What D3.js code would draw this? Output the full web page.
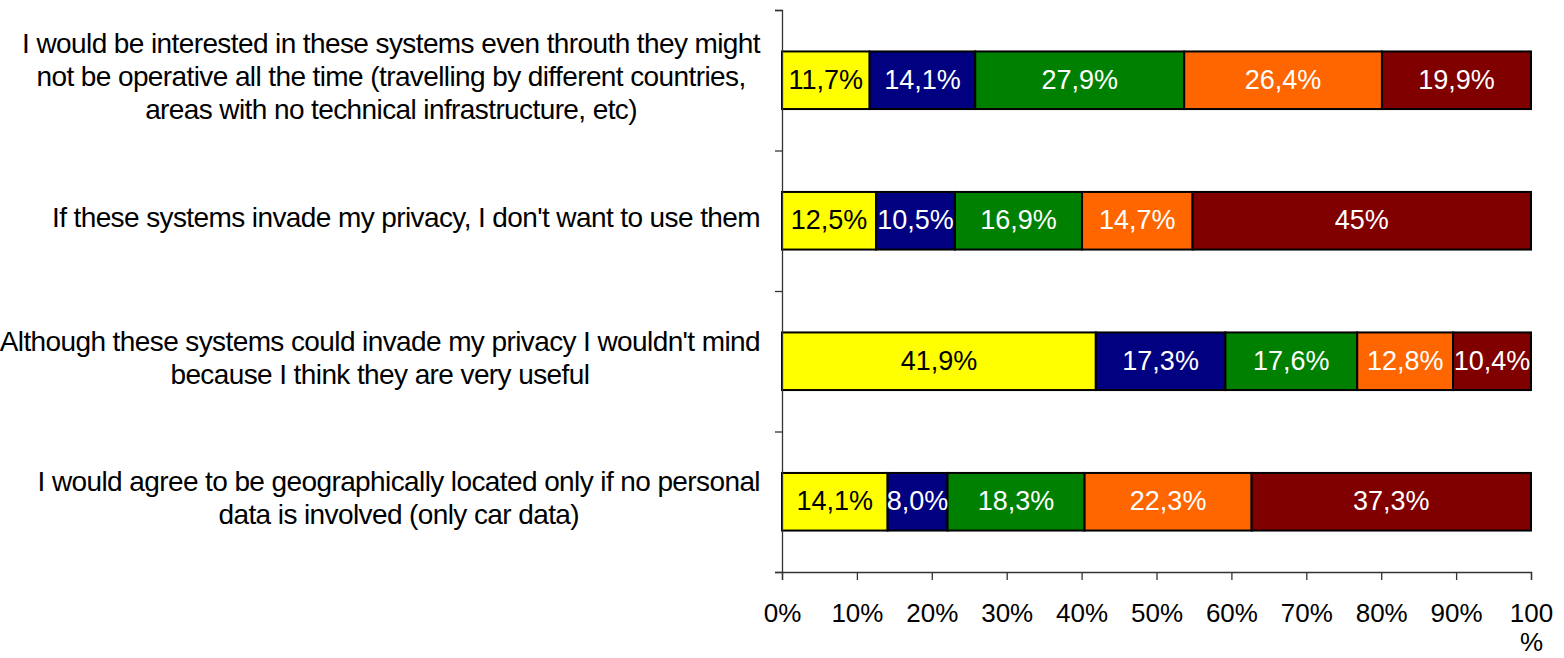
<!DOCTYPE html>
<html>
<head>
<meta charset="utf-8">
<script src="https://cdn.jsdelivr.net/npm/d3@7"></script>
<style>
  html, body { margin: 0; padding: 0; background: #ffffff; }
  svg { display: block; font-family: "Liberation Sans", Arial, sans-serif; }
</style>
</head>
<body>
<svg id="chart" width="1564" height="658"></svg>
<script>
// ---- Data ----
const categories = [
  "I would be interested in these systems even throuth they might not be operative all the time (travelling by different countries, areas with no technical infrastructure, etc)",
  "If these systems invade my privacy, I don't want to use them",
  "Although these systems could invade my privacy I wouldn't mind because I think they are very useful",
  "I would agree to be geographically located only if no personal data is involved (only car data)"
];
const categoryLines = [
  ["I would be interested in these systems even throuth they might", "not be operative all the time (travelling by different countries,", "areas with no technical infrastructure, etc)"],
  ["If these systems invade my privacy, I don't want to use them"],
  ["Although these systems could invade my privacy I wouldn't mind", "because I think they are very useful"],
  ["I would agree to be geographically located only if no personal", "data is involved (only car data)"]
];
const seriesNames = ["s1", "s2", "s3", "s4", "s5"];
const s1 = [11.7, 12.5, 41.9, 14.1];
const s2 = [14.1, 10.5, 17.3, 8.0];
const s3 = [27.9, 16.9, 17.6, 18.3];
const s4 = [26.4, 14.7, 12.8, 22.3];
const s5 = [19.9, 45.0, 10.4, 37.3];
const seriesLabels = [
  ["11,7%", "12,5%", "41,9%", "14,1%"],
  ["14,1%", "10,5%", "17,3%", "8,0%"],
  ["27,9%", "16,9%", "17,6%", "18,3%"],
  ["26,4%", "14,7%", "12,8%", "22,3%"],
  ["19,9%", "45%", "10,4%", "37,3%"]
];
const seriesColors = ["#FFFF00", "#000080", "#008000", "#FF6600", "#800000"];
const labelColors = ["#000000", "#ffffff", "#ffffff", "#ffffff", "#ffffff"];
const xTicks = [0, 0.1, 0.2, 0.3, 0.4, 0.5, 0.6, 0.7, 0.8, 0.9, 1.0];
const xTickLabels = ["0%", "10%", "20%", "30%", "40%", "50%", "60%", "70%", "80%", "90%", "100 %"];

// ---- Layout ----
const svg = d3.select("#chart");
const plotLeft = 782, plotRight = 1531, plotTop = 10, plotBottom = 572;

const x = d3.scaleLinear().domain([0, 1]).range([plotLeft, plotRight]);
const y = d3.scaleBand().domain(d3.range(categories.length)).range([plotTop, plotBottom]).padding(0);
const yEdge = d3.scaleLinear().domain([0, categories.length]).range([plotTop, plotBottom]);
const barH = y.bandwidth() * 0.41;

const allSeries = [s1, s2, s3, s4, s5];
const rows = categories.map((c, i) => {
  const o = { idx: i };
  seriesNames.forEach((k, j) => o[k] = allSeries[j][i]);
  return o;
});
const stack = d3.stack().keys(seriesNames).offset(d3.stackOffsetExpand);
const stacked = stack(rows);

// bars
const layers = svg.append("g").selectAll("g").data(stacked).join("g")
  .attr("fill", (d, j) => seriesColors[j]);
layers.selectAll("rect").data(d => d).join("rect")
  .attr("x", d => x(d[0]))
  .attr("width", d => x(d[1]) - x(d[0]))
  .attr("y", d => y(d.data.idx) + (y.bandwidth() - barH) / 2)
  .attr("height", barH)
  .attr("stroke", "#000")
  .attr("stroke-width", 2);

// bar labels
stacked.forEach((layer, j) => {
  svg.append("g").selectAll("text").data(layer).join("text")
    .attr("x", d => (x(d[0]) + x(d[1])) / 2)
    .attr("y", d => y(d.data.idx) + y.bandwidth() / 2 - 1)
    .attr("dy", "0.36em")
    .attr("text-anchor", "middle")
    .attr("font-size", 27)
    .attr("fill", labelColors[j])
    .text((d, i) => seriesLabels[j][i]);
});

// left axis (ticks at band edges)
const leftAxis = d3.axisLeft(yEdge).tickValues(d3.range(categories.length + 1)).tickSize(7).tickFormat("");
const gL = svg.append("g").attr("transform", `translate(${plotLeft},0)`).call(leftAxis);
gL.select(".domain").attr("stroke", "#333").attr("stroke-width", 1.3);
gL.selectAll(".tick line").attr("stroke", "#333").attr("stroke-width", 1.3);

// bottom axis
const bottomAxis = d3.axisBottom(x).tickValues(xTicks).tickSize(8).tickFormat("");
const gB = svg.append("g").attr("transform", `translate(0,${plotBottom})`).call(bottomAxis);
gB.select(".domain").attr("stroke", "#333").attr("stroke-width", 1.3);
gB.selectAll(".tick line").attr("stroke", "#333").attr("stroke-width", 1.3);
gB.selectAll(".tick").each(function(d, i) {
  const parts = xTickLabels[i].split(" ");
  const t = d3.select(this).append("text")
    .attr("fill", "#000")
    .attr("font-size", 26)
    .attr("text-anchor", "middle")
    .attr("y", 50);
  parts.forEach((p, k) => {
    t.append("tspan").attr("x", 0).attr("dy", k === 0 ? 0 : 29).text(p);
  });
});

// category labels: each block's widest line ends at labelRight, lines centered within block
const labelRight = 760;
const lineH = 33;
categoryLines.forEach((lines, i) => {
  const g = svg.append("g");
  const cy = y(i) + y.bandwidth() / 2;
  const texts = lines.map((ln, k) => g.append("text")
    .attr("font-size", 28)
    .attr("letter-spacing", "-0.6px")
    .attr("fill", "#000")
    .attr("text-anchor", "middle")
    .attr("y", cy + (k - (lines.length - 1) / 2) * lineH + 6)
    .text(ln));
  const widths = texts.map(t => t.node().getComputedTextLength());
  const maxW = d3.max(widths);
  texts.forEach(t => t.attr("x", labelRight - maxW / 2));
});
</script>
</body>
</html>
